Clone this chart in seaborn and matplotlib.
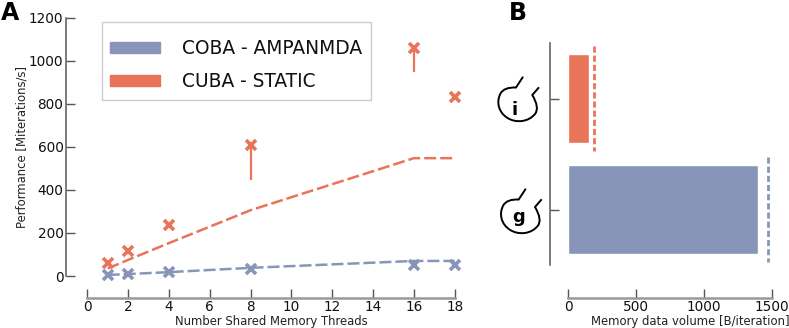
import numpy as np
import pandas as pd
import matplotlib
matplotlib.use('Agg')
import matplotlib.pyplot as plt
import seaborn as sns
from matplotlib.patches import Patch, PathPatch, Rectangle
from matplotlib.path import Path

# Panel A data
threads = [1, 2, 4, 8, 16, 18]
cuba_perf = [60, 118, 237, 608, 1062, 833]
coba_perf = [5, 8, 17, 32, 50, 52]
cuba_line = [35, 75, 153, 306, 548, 548]
coba_line = [5, 9, 18, 38, 70, 70]
# lower end of the vertical whiskers
whisker_threads = [8, 16]
whisker_low = [446, 950]
whisker_high = [608, 1062]

# Panel B data
models = ['CUBA', 'COBA']
memory = [154, 1398]
memory_ref = [193, 1471]

BLUE = '#8796B8'
ORANGE = '#E8745A'
W, H = 789, 328


def px_axes(x0, x1, y_top, y_bottom):
    return [x0 / W, 1 - y_bottom / H, (x1 - x0) / W, (y_bottom - y_top) / H]


def px(n):
    return n * 72 / 100


def style_axes(a, left_off, bottom_off):
    a.tick_params(axis='both', direction='in', length=px(9), width=1, labelsize=9.8,
                  color='#555555', labelcolor='#111111', bottom=True, left=True, pad=1.8)
    a.patch.set_alpha(0)
    sns.despine(ax=a)
    a.spines['left'].set_position(('outward', px(left_off)))
    a.spines['bottom'].set_position(('outward', px(bottom_off)))
    a.spines['left'].set(color='#666666', linewidth=1.2)
    a.spines['bottom'].set(color='#999999', linewidth=1.8)


sns.set_theme(style='white', rc={'font.family': 'DejaVu Sans', 'text.color': '#111111',
                                 'axes.labelcolor': '#222222'})
fig = plt.figure(figsize=(W / 100, H / 100), dpi=100)

# Panel A
ax = fig.add_axes(px_axes(87.3, 454.7, 18, 276))
df_cuba = pd.DataFrame({'threads': threads, 'perf': cuba_perf, 'line': cuba_line})
df_coba = pd.DataFrame({'threads': threads, 'perf': coba_perf, 'line': coba_line})
for df, col in [(df_coba, BLUE), (df_cuba, ORANGE)]:
    sns.lineplot(data=df, x='threads', y='line', color=col, lw=1.8, ax=ax,
                 errorbar=None, clip_on=False)
    ax.lines[-1].set_dashes((4.8, 1.6))
    ax.plot(df['threads'], df['perf'], ls='none', marker='x', ms=7.5, mew=2.6,
            color=col, clip_on=False, zorder=4)
ax.vlines(whisker_threads, whisker_low, whisker_high, color=ORANGE, lw=1.6)
ax.set_xlim(0, 18)
ax.set_ylim(0, 1200)
ax.set_xticks(range(0, 19, 2))
ax.set_yticks(range(0, 1201, 200))
ax.set_xlabel('Number Shared Memory Threads', fontsize=8.35, labelpad=0.5)
ax.set_ylabel('Performance [Miterations/s]', fontsize=8.35, labelpad=0.5)
style_axes(ax, 21.3, 21.7)

# legend frame is drawn apart so the box can have its own padding
fig.add_artist(Rectangle((101.5 / W, 1 - 100 / H), 269 / W, 78 / H, fc='white', ec='#cccccc', lw=1,
                         transform=fig.transFigure))
handles = [Patch(color=BLUE, label='COBA - AMPANMDA'), Patch(color=ORANGE, label='CUBA - STATIC')]
leg = fig.legend(handles=handles, loc='upper left', bbox_to_anchor=(110 / W, 1 - 39 / H),
                 borderaxespad=0, borderpad=0, fontsize=13.4, handlelength=2.69, handleheight=0.52,
                 handletextpad=1.18, labelspacing=0.77, frameon=False)

# Panel B
bx = fig.add_axes(px_axes(568, 772.3, 43, 265))
df_mem = pd.DataFrame({'model': models, 'memory': memory})
sns.barplot(data=df_mem, y='model', x='memory', hue='model', orient='h', width=0.81,
            palette=[ORANGE, BLUE], legend=False, saturation=1, ax=bx)
for i, (v, col) in enumerate(zip(memory_ref, [ORANGE, BLUE])):
    bx.vlines(v, i - 0.475, i + 0.475, color=col, lw=2, linestyles=(0, (2.2, 1.1)))
bx.set_xlim(0, 1500)
bx.set_ylim(1.5, -0.5)
bx.set_xticks([0, 500, 1000, 1500])
bx.set_yticks([0, 1])
bx.set_yticklabels([])
bx.set_ylabel('')
bx.set_xlabel('Memory data volume [B/iteration]', fontsize=8.35, x=0.597, labelpad=0.5)
style_axes(bx, 18.3, 32.7)


# Neuron sketches, placed in pixel coordinates
def blob(ox, oy):
    ctrl = [(14, 17), (7, 30), (11, 44), (24, 52), (40, 50), (50, 38)]
    start, notch, tip = (26, 17.5), (42.3, 25), (49, 17.3)
    verts = [start]
    codes = [Path.MOVETO]
    for a, b in zip(ctrl[:-1], ctrl[1:]):
        verts += [a, ((a[0] + b[0]) / 2, (a[1] + b[1]) / 2)]
        codes += [Path.CURVE3, Path.CURVE3]
    verts += [ctrl[-1], notch, tip]
    codes += [Path.CURVE3, Path.CURVE3, Path.LINETO]
    verts = [((x + ox) / W, 1 - (y + oy) / H) for x, y in verts]
    fig.add_artist(PathPatch(Path(verts, codes), fc='none', ec='black', lw=1.4,
                             transform=fig.transFigure))
    stem = [(26 + ox, 17.5 + oy), (32.7 + ox, 7.3 + oy)]
    fig.add_artist(plt.Line2D([s[0] / W for s in stem], [1 - s[1] / H for s in stem],
                              color='black', lw=1.4, transform=fig.transFigure))


blob(490, 70)
blob(492.7, 182)
fig.text(515 / W, 1 - 115 / H, 'i', fontsize=13, fontweight='bold', ha='center', va='baseline', color='black')
fig.text(519 / W, 1 - 221.5 / H, 'g', fontsize=13, fontweight='bold', ha='center', va='baseline', color='black')
fig.text(1 / W, 1 - 20 / H, 'A', fontsize=17, fontweight='bold', ha='left', va='baseline', color='black')
fig.text(509 / W, 1 - 20 / H, 'B', fontsize=17, fontweight='bold', ha='left', va='baseline', color='black')

fig.savefig('out.png', dpi=100)
